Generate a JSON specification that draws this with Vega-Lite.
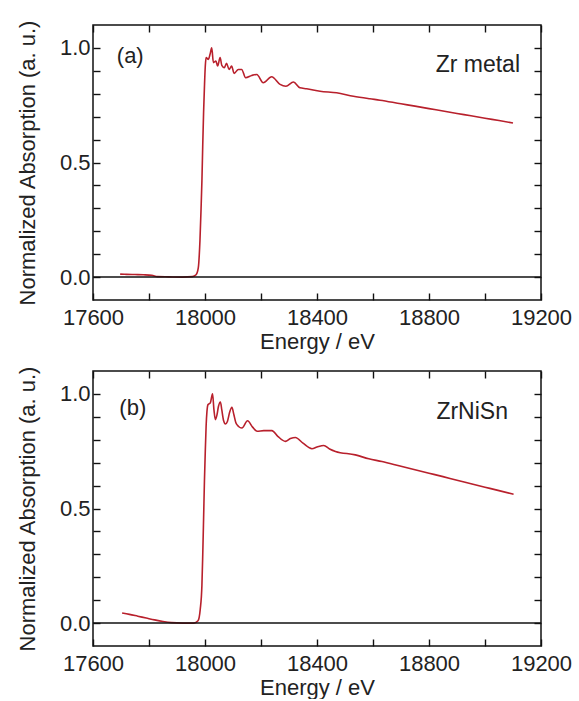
{
  "$schema": "https://vega.github.io/schema/vega-lite/v6.json",
  "padding": {"left": 15, "top": 18, "right": 5, "bottom": 0},
  "spacing": 11,
  "config": {
    "view": {"stroke": "#111111", "strokeWidth": 1.5},
    "font": "Liberation Sans",
    "axis": {
      "grid": false, "domain": false, "ticks": true, "zindex": 1,
      "tickColor": "#111111", "tickWidth": 1.4, "tickSize": 7, "offset": -7,
      "labelFont": "Liberation Sans", "labelFontSize": 22, "labelColor": "#222222",
      "titleFont": "Liberation Sans", "titleFontSize": 22, "titleFontWeight": "normal", "titleColor": "#222222",
      "labelFlush": false, "labelOverlap": false, "labelBound": false
    }
  },
  "datasets": {
    "zr": [
      {"energy": 17697, "absorption": 0.013}, {"energy": 17720, "absorption": 0.012}, {"energy": 17750, "absorption": 0.011},
      {"energy": 17780, "absorption": 0.010}, {"energy": 17810, "absorption": 0.008}, {"energy": 17830, "absorption": 0.002},
      {"energy": 17870, "absorption": 0.001}, {"energy": 17920, "absorption": 0.0}, {"energy": 17955, "absorption": 0.002},
      {"energy": 17968, "absorption": 0.01}, {"energy": 17976, "absorption": 0.04}, {"energy": 17982, "absorption": 0.16},
      {"energy": 17986, "absorption": 0.30}, {"energy": 17989, "absorption": 0.42}, {"energy": 17992, "absorption": 0.58},
      {"energy": 17995, "absorption": 0.72}, {"energy": 17998, "absorption": 0.83}, {"energy": 18001, "absorption": 0.92},
      {"energy": 18004, "absorption": 0.958}, {"energy": 18012, "absorption": 0.950}, {"energy": 18018, "absorption": 0.972},
      {"energy": 18024, "absorption": 1.0}, {"energy": 18030, "absorption": 0.936}, {"energy": 18039, "absorption": 0.943},
      {"energy": 18045, "absorption": 0.921}, {"energy": 18054, "absorption": 0.958}, {"energy": 18060, "absorption": 0.924},
      {"energy": 18069, "absorption": 0.914}, {"energy": 18077, "absorption": 0.933}, {"energy": 18086, "absorption": 0.906},
      {"energy": 18095, "absorption": 0.921}, {"energy": 18104, "absorption": 0.889}, {"energy": 18119, "absorption": 0.906},
      {"energy": 18131, "absorption": 0.906}, {"energy": 18145, "absorption": 0.870}, {"energy": 18167, "absorption": 0.880},
      {"energy": 18185, "absorption": 0.884}, {"energy": 18208, "absorption": 0.848}, {"energy": 18238, "absorption": 0.874},
      {"energy": 18268, "absorption": 0.841}, {"energy": 18289, "absorption": 0.833}, {"energy": 18316, "absorption": 0.851},
      {"energy": 18339, "absorption": 0.826}, {"energy": 18363, "absorption": 0.822}, {"energy": 18411, "absorption": 0.811},
      {"energy": 18470, "absorption": 0.804}, {"energy": 18530, "absorption": 0.789}, {"energy": 18589, "absorption": 0.778},
      {"energy": 18625, "absorption": 0.772}, {"energy": 18700, "absorption": 0.756}, {"energy": 18750, "absorption": 0.746},
      {"energy": 18800, "absorption": 0.735}, {"energy": 18850, "absorption": 0.725}, {"energy": 18900, "absorption": 0.714},
      {"energy": 18950, "absorption": 0.704}, {"energy": 19000, "absorption": 0.693}, {"energy": 19050, "absorption": 0.683},
      {"energy": 19100, "absorption": 0.672}
    ],
    "zrnisn": [
      {"energy": 17704, "absorption": 0.044}, {"energy": 17730, "absorption": 0.038}, {"energy": 17760, "absorption": 0.030},
      {"energy": 17790, "absorption": 0.022}, {"energy": 17820, "absorption": 0.014}, {"energy": 17850, "absorption": 0.007},
      {"energy": 17880, "absorption": 0.002}, {"energy": 17920, "absorption": 0.0}, {"energy": 17960, "absorption": 0.0},
      {"energy": 17975, "absorption": 0.01}, {"energy": 17983, "absorption": 0.06}, {"energy": 17989, "absorption": 0.165},
      {"energy": 17992, "absorption": 0.30}, {"energy": 17995, "absorption": 0.457}, {"energy": 17998, "absorption": 0.62},
      {"energy": 18001, "absorption": 0.749}, {"energy": 18004, "absorption": 0.86}, {"energy": 18007, "absorption": 0.924},
      {"energy": 18011, "absorption": 0.954}, {"energy": 18019, "absorption": 0.961}, {"energy": 18027, "absorption": 1.0},
      {"energy": 18032, "absorption": 0.93}, {"energy": 18037, "absorption": 0.888}, {"energy": 18043, "absorption": 0.91},
      {"energy": 18048, "absorption": 0.945}, {"energy": 18055, "absorption": 0.965}, {"energy": 18060, "absorption": 0.93},
      {"energy": 18066, "absorption": 0.885}, {"energy": 18073, "absorption": 0.869}, {"energy": 18080, "absorption": 0.88},
      {"energy": 18088, "absorption": 0.92}, {"energy": 18096, "absorption": 0.942}, {"energy": 18103, "absorption": 0.91},
      {"energy": 18110, "absorption": 0.875}, {"energy": 18114, "absorption": 0.866}, {"energy": 18132, "absorption": 0.851},
      {"energy": 18152, "absorption": 0.883}, {"energy": 18170, "absorption": 0.855}, {"energy": 18186, "absorption": 0.837},
      {"energy": 18210, "absorption": 0.840}, {"energy": 18239, "absorption": 0.840}, {"energy": 18260, "absorption": 0.815},
      {"energy": 18287, "absorption": 0.793}, {"energy": 18305, "absorption": 0.805}, {"energy": 18323, "absorption": 0.810},
      {"energy": 18350, "absorption": 0.785}, {"energy": 18382, "absorption": 0.761}, {"energy": 18400, "absorption": 0.768},
      {"energy": 18424, "absorption": 0.775}, {"energy": 18445, "absorption": 0.760}, {"energy": 18466, "absorption": 0.749},
      {"energy": 18537, "absorption": 0.734}, {"energy": 18585, "absorption": 0.717}, {"energy": 18632, "absorption": 0.705},
      {"energy": 18700, "absorption": 0.684}, {"energy": 18750, "absorption": 0.669}, {"energy": 18800, "absorption": 0.654},
      {"energy": 18850, "absorption": 0.639}, {"energy": 18900, "absorption": 0.623}, {"energy": 18950, "absorption": 0.608},
      {"energy": 19000, "absorption": 0.593}, {"energy": 19050, "absorption": 0.578}, {"energy": 19102, "absorption": 0.562}
    ],
    "zero": [{"level": 0}],
    "tagA": [{"energy": 17685, "absorption": 0.935, "label": "(a)"}],
    "nameA": [{"energy": 19125, "absorption": 0.895, "label": "Zr metal"}],
    "tagB": [{"energy": 17694, "absorption": 0.91, "label": "(b)"}],
    "nameB": [{"energy": 19082, "absorption": 0.889, "label": "ZrNiSn"}]
  },
  "vconcat": [
    {
      "width": 448, "height": 275,
      "layer": [
        {
          "data": {"name": "zr"},
          "mark": {"type": "line", "color": "#b8202c", "strokeWidth": 1.6, "interpolate": "monotone"},
          "encoding": {
            "x": {"field": "energy", "type": "quantitative",
              "scale": {"domain": [17600, 19200], "nice": false, "zero": false},
              "axis": {"orient": "bottom", "values": [17600, 17800, 18000, 18200, 18400, 18600, 18800, 19000, 19200], "format": "d",
                "labelExpr": "datum.value % 400 === 0 ? datum.label : ''", "title": "Energy / eV", "labelPadding": 7, "titlePadding": 3}},
            "y": {"field": "absorption", "type": "quantitative",
              "scale": {"domain": [-0.1, 1.1], "nice": false, "zero": false},
              "axis": {"orient": "left", "values": [0, 0.1, 0.2, 0.3, 0.4, 0.5, 0.6, 0.7, 0.8, 0.9, 1.0],
                "labelExpr": "abs(datum.value * 2 - round(datum.value * 2)) < 0.001 ? format(datum.value, '.1f') : ''",
                "title": "Normalized Absorption (a. u.)", "labelPadding": 3, "titlePadding": 20}}
          }
        },
        {
          "data": {"name": "zero"},
          "mark": {"type": "rule", "color": "#111111", "strokeWidth": 1.5},
          "encoding": {"y": {"field": "level", "type": "quantitative", "axis": null}}
        },
        {
          "data": {"name": "tagA"},
          "mark": {"type": "text", "align": "left", "baseline": "alphabetic", "fontSize": 22, "font": "Liberation Sans", "color": "#222222"},
          "encoding": {
            "x": {"field": "energy", "type": "quantitative", "axis": {"orient": "top", "values": [17600, 17800, 18000, 18200, 18400, 18600, 18800, 19000, 19200], "labels": false, "title": null}},
            "y": {"field": "absorption", "type": "quantitative", "axis": {"orient": "right", "values": [0, 0.1, 0.2, 0.3, 0.4, 0.5, 0.6, 0.7, 0.8, 0.9, 1.0], "labels": false, "title": null}},
            "text": {"field": "label"}
          }
        },
        {
          "data": {"name": "nameA"},
          "mark": {"type": "text", "align": "right", "baseline": "alphabetic", "fontSize": 23, "font": "Liberation Sans", "color": "#222222"},
          "encoding": {
            "x": {"field": "energy", "type": "quantitative", "axis": null},
            "y": {"field": "absorption", "type": "quantitative", "axis": null},
            "text": {"field": "label"}
          }
        }
      ]
    },
    {
      "width": 448, "height": 275,
      "layer": [
        {
          "data": {"name": "zrnisn"},
          "mark": {"type": "line", "color": "#b8202c", "strokeWidth": 1.6, "interpolate": "monotone"},
          "encoding": {
            "x": {"field": "energy", "type": "quantitative",
              "scale": {"domain": [17600, 19200], "nice": false, "zero": false},
              "axis": {"orient": "bottom", "values": [17600, 17800, 18000, 18200, 18400, 18600, 18800, 19000, 19200], "format": "d",
                "labelExpr": "datum.value % 400 === 0 ? datum.label : ''", "title": "Energy / eV", "labelPadding": 7, "titlePadding": 3}},
            "y": {"field": "absorption", "type": "quantitative",
              "scale": {"domain": [-0.1, 1.1], "nice": false, "zero": false},
              "axis": {"orient": "left", "values": [0, 0.1, 0.2, 0.3, 0.4, 0.5, 0.6, 0.7, 0.8, 0.9, 1.0],
                "labelExpr": "abs(datum.value * 2 - round(datum.value * 2)) < 0.001 ? format(datum.value, '.1f') : ''",
                "title": "Normalized Absorption (a. u.)", "labelPadding": 3, "titlePadding": 20}}
          }
        },
        {
          "data": {"name": "zero"},
          "mark": {"type": "rule", "color": "#111111", "strokeWidth": 1.5},
          "encoding": {"y": {"field": "level", "type": "quantitative", "axis": null}}
        },
        {
          "data": {"name": "tagB"},
          "mark": {"type": "text", "align": "left", "baseline": "alphabetic", "fontSize": 22, "font": "Liberation Sans", "color": "#222222"},
          "encoding": {
            "x": {"field": "energy", "type": "quantitative", "axis": {"orient": "top", "values": [17600, 17800, 18000, 18200, 18400, 18600, 18800, 19000, 19200], "labels": false, "title": null}},
            "y": {"field": "absorption", "type": "quantitative", "axis": {"orient": "right", "values": [0, 0.1, 0.2, 0.3, 0.4, 0.5, 0.6, 0.7, 0.8, 0.9, 1.0], "labels": false, "title": null}},
            "text": {"field": "label"}
          }
        },
        {
          "data": {"name": "nameB"},
          "mark": {"type": "text", "align": "right", "baseline": "alphabetic", "fontSize": 23, "font": "Liberation Sans", "color": "#222222"},
          "encoding": {
            "x": {"field": "energy", "type": "quantitative", "axis": null},
            "y": {"field": "absorption", "type": "quantitative", "axis": null},
            "text": {"field": "label"}
          }
        }
      ]
    }
  ]
}
